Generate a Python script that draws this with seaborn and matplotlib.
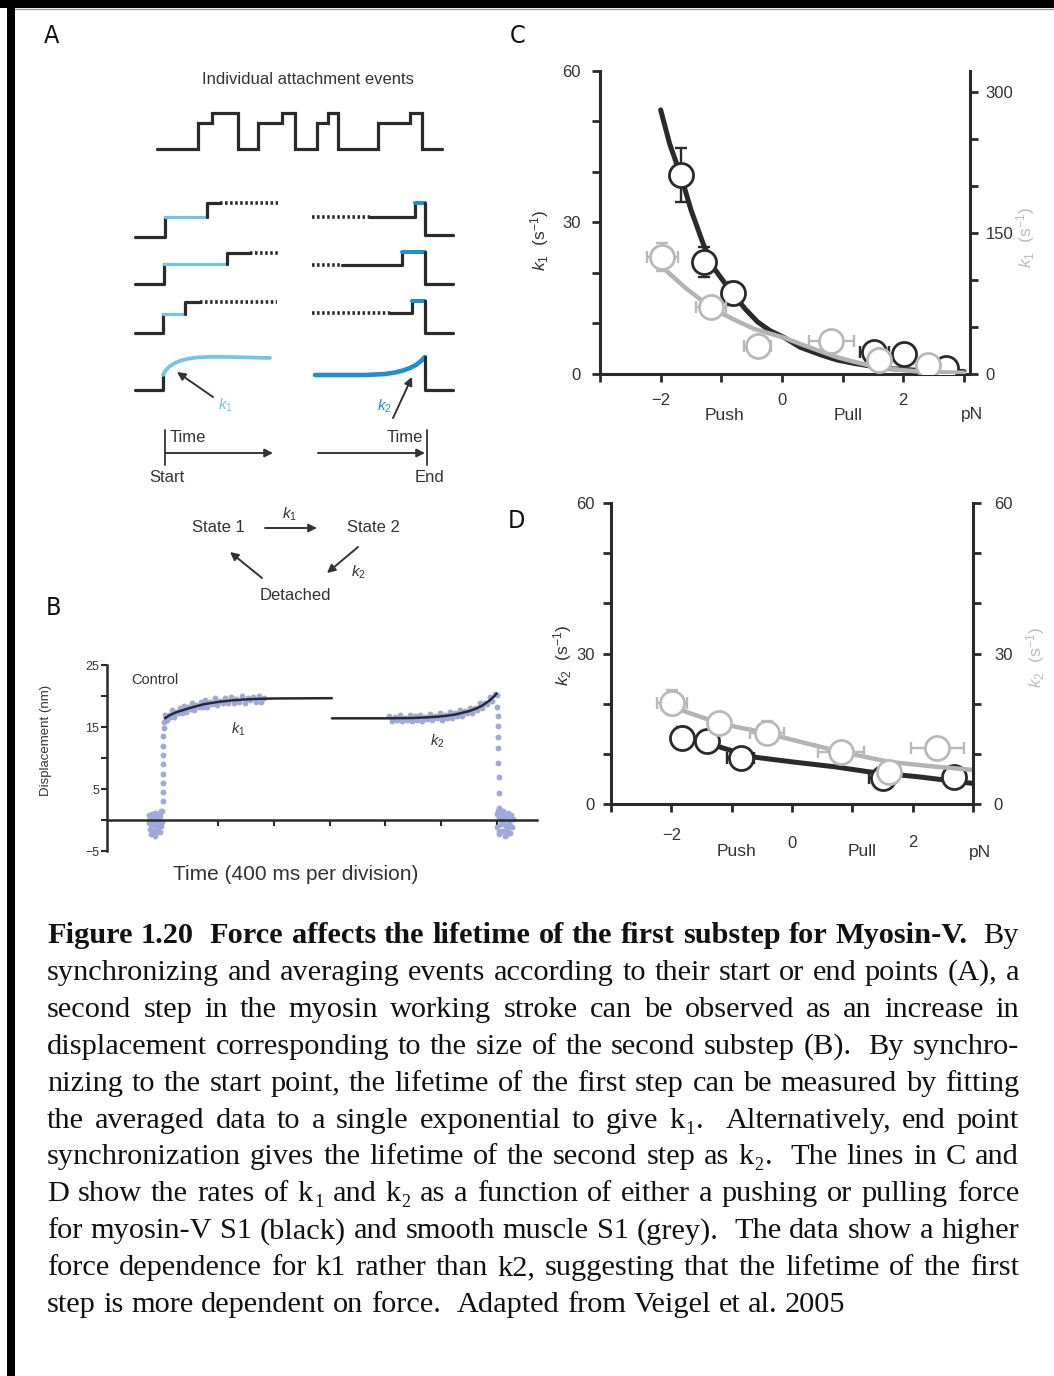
import re
import matplotlib
matplotlib.use("Agg")
import matplotlib.pyplot as plt
from matplotlib.patches import Rectangle
import seaborn as sns

# ---------------------------------------------------------------- data
# Panel C (k1 vs force); black = myosin-V (left axis), grey = smooth muscle (right axis)
c_black_fit_x = [-2.0, -1.85, -1.67, -1.5, -1.29, -1.1, -0.82, -0.6, -0.4, -0.2, 0.04,
                 0.3, 0.64, 0.9, 1.19, 1.5, 1.74, 2.0, 2.29, 2.6, 3.0]
c_black_fit_y = [52.3, 45.5, 39.4, 32.5, 25.5, 20.6, 16.0, 12.8, 10.3, 8.6, 7.2,
                 5.3, 3.8, 2.8, 2.1, 1.5, 1.1, 0.9, 0.7, 0.6, 0.5]
c_grey_fit_x = [-1.98, -1.6, -1.18, -0.95, -0.73, -0.46, -0.2, 0.04, 0.34, 0.64, 0.9,
                1.19, 1.45, 1.74, 2.0, 2.29, 2.6, 3.0]
c_grey_fit_y = [114, 92, 71, 63, 56, 48, 43, 38.5, 31, 24, 18, 13, 9, 6, 4, 2.5, 1.8, 1.4]
c_black_x = [-1.67, -1.29, -0.81, 1.52, 2.02, 2.71]
c_black_y = [39.4, 22.2, 16.0, 4.4, 4.0, 1.2]
c_black_xerr = [0.0, 0.0, 0.0, 0.24, 0.0, 0.0]
c_black_yerr = [5.4, 3.0, 2.3, 0.0, 0.0, 0.0]
c_grey_x = [-1.97, -1.17, -0.40, 0.81, 1.60, 2.41]
c_grey_y = [124, 71, 30, 35, 15, 9.5]
c_grey_xerr = [0.25, 0.25, 0.22, 0.37, 0.0, 0.0]
c_grey_yerr = [15, 0, 0, 0, 0, 0]

# Panel D (k2 vs force)
d_black_fit_x = [-1.83, -1.21, -0.66, 0.0, 0.72, 1.28, 2.11, 3.0]
d_black_fit_y = [13.2, 11.4, 9.4, 8.4, 7.4, 6.4, 5.4, 4.1]
d_grey_fit_x = [-1.93, -1.21, -0.42, 0.0, 0.81, 1.61, 2.41, 3.0]
d_grey_fit_y = [19.1, 16.1, 14.1, 12.8, 10.4, 8.4, 7.4, 6.8]
d_black_x = [-1.83, -1.41, -0.85, 1.50, 2.69]
d_black_y = [13.2, 12.6, 9.2, 5.2, 5.4]
d_black_xerr = [0.0, 0.0, 0.22, 0.22, 0.0]
d_black_yerr = [2.2, 2.0, 0.0, 0.0, 0.0]
d_grey_x = [-1.99, -1.21, -0.42, 0.81, 1.61, 2.41]
d_grey_y = [20.2, 16.1, 14.2, 10.4, 6.4, 11.2]
d_grey_xerr = [0.25, 0.0, 0.28, 0.38, 0.0, 0.44]
d_grey_yerr = [2.5, 1.5, 2.3, 0.0, 0.0, 0.0]

# Panel B (displacement trace, time in ms)
b_noise1_t = [300, 305, 310, 312, 318, 320, 325, 330, 333, 338, 342, 345,
              350, 355, 358, 362, 366, 370, 374, 378, 382, 386, 390, 393]
b_noise1_y = [-0.5, 0.8, -1.5, 0.3, -2.2, 1.0, -0.8, -1.8, 0.5, -0.3, -2.5, 1.2,
              -1.0, 0.2, -1.9, -0.6, 0.9, -1.3, -0.2, -2.0, 0.6, -0.9, 1.4, -0.4]
b_rise_t = [398, 399, 400, 401, 402, 403, 404, 405, 406, 408, 410]
b_rise_y = [1.5, 3.0, 4.5, 6.0, 7.5, 9.0, 10.5, 12.0, 13.5, 14.8, 15.8]
b_k1_t = [418, 430, 442, 455, 468, 480, 494, 508, 522, 536, 550, 565, 580, 595,
          610, 626, 642, 658, 674, 690, 706, 722, 740, 758, 776, 794, 812, 830,
          850, 870, 890, 910, 930, 950, 970, 990, 1010, 1030, 1050, 1070, 1090,
          1110, 1125]
b_k1_y = [16.9, 16.1, 17.0, 16.6, 17.7, 16.6, 17.5, 17.3, 18.0, 17.3, 18.4, 17.5,
          18.3, 17.9, 18.9, 17.8, 18.6, 18.3, 19.0, 18.3, 19.3, 18.3, 19.1, 18.7,
          19.6, 18.5, 19.2, 18.9, 19.6, 18.8, 19.8, 18.8, 19.5, 19.1, 20.0, 18.9,
          19.6, 19.3, 19.9, 19.1, 20.0, 19.0, 19.7]
b_k2_t = [2030, 2048, 2066, 2084, 2102, 2120, 2138, 2156, 2174, 2192, 2210, 2228,
          2246, 2264, 2282, 2300, 2318, 2336, 2354, 2372, 2390, 2408, 2426, 2444,
          2462, 2480, 2498, 2516, 2534, 2552, 2570, 2588, 2606, 2624, 2642, 2660,
          2678, 2696, 2714, 2732, 2750, 2768, 2786, 2800]
b_k2_y = [16.8, 16.0, 16.6, 16.1, 16.9, 15.9, 16.5, 16.2, 16.9, 16.0, 16.7, 16.2,
          17.0, 16.0, 16.6, 16.3, 17.1, 16.1, 16.8, 16.4, 17.2, 16.2, 17.0, 16.5,
          17.4, 16.4, 17.2, 16.8, 17.7, 16.7, 17.6, 17.2, 18.1, 17.2, 18.1, 17.8,
          18.8, 18.0, 18.9, 18.7, 19.8, 19.2, 20.3, 20.2]
b_fall_t = [2806, 2808, 2810, 2811, 2812, 2813, 2814, 2815, 2816, 2817]
b_fall_y = [18.2, 16.7, 15.2, 13.4, 11.6, 9.2, 6.9, 4.4, 1.9, 0.5]
b_noise2_t = [2800, 2806, 2812, 2818, 2824, 2830, 2836, 2842, 2848, 2854, 2860, 2866,
              2872, 2878, 2884, 2890, 2896, 2902, 2908, 2914, 2820, 2845, 2870, 2895]
b_noise2_y = [0.9, -1.2, 1.4, -2.3, 0.2, -0.7, 1.1, -1.8, -0.3, 0.7, -2.5, -1.0,
              0.4, -1.6, 1.2, -0.5, -2.1, 0.8, -1.1, 0.1, -2.0, 1.5, -2.4, -0.9]
b_k1_fit_t = [416, 450, 500, 600, 700, 800, 900, 1000, 1100, 1200, 1616]
b_k1_fit_y = [16.4, 16.9, 17.4, 18.1, 18.7, 19.05, 19.3, 19.45, 19.55, 19.6, 19.65]
b_k2_fit_t = [1616, 2000, 2200, 2300, 2400, 2500, 2600, 2650, 2700, 2750, 2780, 2800]
b_k2_fit_y = [16.4, 16.4, 16.45, 16.55, 16.7, 17.0, 17.55, 17.95, 18.5, 19.3, 19.9, 20.4]
b_xticks = [800, 1200, 1600, 2000, 2400, 2800]
b_yticks = [-5, 0, 5, 10, 15, 20, 25]
b_ylabels = ["\u22125", "", "5", "", "15", "", "25"]

# Panel A schematic (step traces)
a_top_x = [157, 198, 198, 212, 212, 238, 238, 258, 258, 282, 282, 295, 295, 317,
           317, 328, 328, 338, 338, 378, 378, 410, 410, 422, 422, 442]
a_top_y = [149, 149, 123, 123, 113, 113, 149, 149, 123, 123, 113, 113, 149, 149,
           123, 123, 113, 113, 149, 149, 123, 123, 113, 113, 149, 149]
a_left_base = [237, 284, 333]
a_left_l1 = [217, 264, 314]
a_left_l2 = [203, 253, 302]
a_left_up = [165, 164, 163]
a_left_step = [207, 227, 185]
a_left_bend = [220, 250, 200]
a_left_dend = [278, 278, 277]
a_right_dend = [370, 342, 390]
a_right_l1 = [217, 265, 313]
a_right_step = [415, 402, 412]
a_right_l2 = [203, 252, 301]
a_right_base = [235, 284, 333]
a_k1_curve_x = [163, 166, 170, 175, 181, 188, 196, 205, 215, 230, 250, 270]
a_k1_curve_y = [375, 370, 366, 363, 360.5, 358.8, 357.6, 357, 356.8, 357, 357.5, 358]
a_k2_curve_x = [315, 340, 365, 385, 395, 403, 410, 416, 421, 425]
a_k2_curve_y = [375, 375, 375, 374, 372.5, 370.5, 368, 365, 361, 357]

caption_lines = [
    "Figure 1.20  Force affects the lifetime of the first substep for Myosin-V.  By",
    "synchronizing and averaging events according to their start or end points (A), a",
    "second step in the myosin working stroke can be observed as an increase in",
    "displacement corresponding to the size of the second substep (B).  By synchro-",
    "nizing to the start point, the lifetime of the first step can be measured by fitting",
    "the averaged data to a single exponential to give k_1.  Alternatively, end point",
    "synchronization gives the lifetime of the second step as k_2.  The lines in C and",
    "D show the rates of k_1 and k_2 as a function of either a pushing or pulling force",
    "for myosin-V S1 (black) and smooth muscle S1 (grey).  The data show a higher",
    "force dependence for k1 rather than k2, suggesting that the lifetime of the first",
    "step is more dependent on force.  Adapted from Veigel et al. 2005",
]
caption_bold_words = 12

# ---------------------------------------------------------------- style
W, H = 1054, 1376
BLACK = "#2a2a2a"
GREY = "#b3b3b3"
TXT = "#333333"
LBLUE = "#74c3ee"
DBLUE = "#1e8fd5"
DOTS = "#a0a9dc"

sns.set_theme(style="ticks")
plt.rcParams["font.family"] = ["Liberation Sans", "DejaVu Sans"]
plt.rcParams["mathtext.fontset"] = "custom"
plt.rcParams["mathtext.rm"] = "Liberation Sans"
plt.rcParams["mathtext.it"] = "Liberation Sans:italic"
plt.rcParams["mathtext.bf"] = "Liberation Sans:bold"
plt.rcParams["axes.edgecolor"] = BLACK
plt.rcParams["xtick.color"] = BLACK
plt.rcParams["ytick.color"] = BLACK

fig = plt.figure(figsize=(W / 100, H / 100), dpi=100)
fig.patch.set_facecolor("white")

ov = fig.add_axes([0, 0, 1, 1])
ov.set_xlim(0, W)
ov.set_ylim(H, 0)
ov.axis("off")


def px_axes(x0, y0, x1, y1):
    ax = fig.add_axes([x0 / W, 1 - y1 / H, (x1 - x0) / W, (y1 - y0) / H])
    ax.patch.set_alpha(0)
    return ax


# border
ov.add_patch(Rectangle((0, 0), W, 8, color="black", lw=0))
ov.add_patch(Rectangle((7, 0), 8, H, color="black", lw=0))
ov.plot([15, W], [9, 9], color="#9a9a9a", lw=1)

# panel letters
for lab, x, y in [("A", 52, 36), ("C", 518, 36), ("B", 53, 608), ("D", 516, 521)]:
    ov.text(x, y, lab, fontsize=18, family="DejaVu Sans", fontstretch="condensed",
            color="#111", ha="center", va="center")

# ---------------------------------------------------------------- panel A
LW = 2.3
ov.text(308, 80, "Individual attachment events", fontsize=12, color=TXT,
        ha="center", va="center")
ov.plot(a_top_x, a_top_y, color=BLACK, lw=LW, solid_joinstyle="miter")
dot_style = dict(color=BLACK, lw=2.6, linestyle=(0, (0.7, 0.7)))
for i in range(3):
    b, l1, l2 = a_left_base[i], a_left_l1[i], a_left_l2[i]
    up, st = a_left_up[i], a_left_step[i]
    ov.plot([135, up, up], [b, b, l1], color=BLACK, lw=LW)
    ov.plot([up, st], [l1, l1], color=LBLUE, lw=LW)
    ov.plot([st, st, a_left_bend[i]], [l1, l2, l2], color=BLACK, lw=LW)
    ov.plot([a_left_bend[i], a_left_dend[i]], [l2, l2], **dot_style)
    rb, r1, r2, rs = a_right_base[i], a_right_l1[i], a_right_l2[i], a_right_step[i]
    ov.plot([312, a_right_dend[i]], [r1, r1], **dot_style)
    ov.plot([a_right_dend[i], rs, rs], [r1, r1, r2], color=BLACK, lw=LW)
    ov.plot([rs, 425], [r2, r2], color=DBLUE, lw=LW + 0.6)
    ov.plot([425, 425, 453], [r2, rb, rb], color=BLACK, lw=LW)
ov.plot([135, 163, 163], [390, 390, 375], color=BLACK, lw=LW)
ov.plot(a_k1_curve_x, a_k1_curve_y, color=LBLUE, lw=LW + 0.4)
ov.plot(a_k2_curve_x, a_k2_curve_y, color=DBLUE, lw=LW + 1.0)
ov.plot([425, 425, 453], [357, 390, 390], color=BLACK, lw=LW)

arrow = dict(arrowstyle="-|>", color=TXT, lw=1.4, mutation_scale=12, shrinkA=0, shrinkB=0)
ov.annotate("", xy=(177, 372), xytext=(213, 397), arrowprops=arrow)
ov.annotate("", xy=(412, 377), xytext=(393, 418), arrowprops=arrow)
ov.text(226, 405, r"$k_1$", color=LBLUE, fontsize=11, ha="center", va="center")
ov.text(384, 406, r"$k_2$", color=DBLUE, fontsize=11, ha="center", va="center")

ov.plot([165, 165], [430, 465], color=TXT, lw=1.3)
ov.annotate("", xy=(273, 453), xytext=(165, 453), arrowprops=arrow)
ov.annotate("", xy=(425, 453), xytext=(318, 453), arrowprops=arrow)
ov.plot([427, 427], [430, 465], color=TXT, lw=1.3)
ov.text(170, 437, "Time", fontsize=12, color=TXT, ha="left", va="center")
ov.text(423, 437, "Time", fontsize=12, color=TXT, ha="right", va="center")
ov.text(167, 477, "Start", fontsize=12, color=TXT, ha="center", va="center")
ov.text(429, 477, "End", fontsize=12, color=TXT, ha="center", va="center")

ov.text(218, 527, "State 1", fontsize=12, color=TXT, ha="center", va="center")
ov.text(373, 527, "State 2", fontsize=12, color=TXT, ha="center", va="center")
ov.text(295, 596, "Detached", fontsize=12, color=TXT, ha="center", va="center")
ov.annotate("", xy=(317, 528), xytext=(265, 528), arrowprops=arrow)
ov.annotate("", xy=(327, 573), xytext=(358, 547), arrowprops=arrow)
ov.annotate("", xy=(230, 552), xytext=(262, 578), arrowprops=arrow)
ov.text(290, 514, r"$k_1$", fontsize=11, color=TXT, ha="center", va="center")
ov.text(358, 572, r"$k_2$", fontsize=11, color=TXT, ha="center", va="center")

# ---------------------------------------------------------------- panel B
axB = px_axes(107, 665, 537, 851)
axB.set_xlim(0, 3090)
axB.set_ylim(-5, 25)
for arr_t, arr_y in [(b_noise1_t, b_noise1_y), (b_rise_t, b_rise_y), (b_k1_t, b_k1_y),
                     (b_k2_t, b_k2_y), (b_fall_t, b_fall_y), (b_noise2_t, b_noise2_y)]:
    sns.scatterplot(x=arr_t, y=arr_y, ax=axB, s=18, color=DOTS, linewidth=0, zorder=2)
sns.lineplot(x=b_k1_fit_t, y=b_k1_fit_y, ax=axB, color=BLACK, lw=1.8, zorder=3)
sns.lineplot(x=b_k2_fit_t, y=b_k2_fit_y, ax=axB, color=BLACK, lw=1.8, zorder=3)
axB.spines["top"].set_visible(False)
axB.spines["right"].set_visible(False)
axB.spines["bottom"].set_position(("data", 0))
for s in ["left", "bottom"]:
    axB.spines[s].set_linewidth(1.8)
axB.set_xticks(b_xticks)
axB.set_xticklabels([])
axB.set_yticks(b_yticks)
axB.set_yticklabels(b_ylabels)
axB.tick_params(axis="y", length=4, width=1.5, pad=1.5, labelsize=9, labelcolor=TXT)
axB.tick_params(axis="x", length=4, width=1.5, direction="out")
axB.set_xlabel("")
axB.set_ylabel("")
ov.text(46, 740, "Displacement (nm)", fontsize=9.5, color=TXT, rotation=90,
        ha="center", va="center")
ov.text(131, 680, "Control", fontsize=10.5, color=TXT, ha="left", va="center")
ov.text(238, 729, r"$k_1$", fontsize=10.5, color=TXT, ha="center", va="center")
ov.text(437, 741, r"$k_2$", fontsize=10.5, color=TXT, ha="center", va="center")
ov.text(296, 875, "Time (400 ms per division)", fontsize=15, color=TXT,
        ha="center", va="center")


# ---------------------------------------------------------------- panels C & D
def force_panel(rect, xlim, left_max, right_max, left_ticks, left_labels,
                right_ticks, right_labels, fits, points, lpad, rpad, xpads):
    ax = px_axes(*rect)
    ax.set_xlim(*xlim)
    ax.set_ylim(0, left_max)
    axr = ax.twinx()
    axr.set_ylim(0, right_max)
    axr.patch.set_alpha(0)
    (bfx, bfy), (gfx, gfy) = fits
    sns.lineplot(x=bfx, y=bfy, ax=ax, color=BLACK, lw=3.6, zorder=2)
    sns.lineplot(x=gfx, y=gfy, ax=axr, color=GREY, lw=3.2, zorder=2)
    for a, (px, py, pxe, pye), edge in [(ax, points[0], BLACK), (axr, points[1], "#b9b9b9")]:
        a.errorbar(px, py, xerr=pxe, yerr=pye, fmt="none", ecolor=edge,
                   elinewidth=1.7, capsize=4, capthick=1.7, zorder=3)
        sns.scatterplot(x=px, y=py, ax=a, s=300, color="white", edgecolor=edge,
                        linewidth=2.0, zorder=4)
    for s in ["top", "right"]:
        ax.spines[s].set_visible(False)
    for s in ["top", "left", "bottom"]:
        axr.spines[s].set_visible(False)
    for s in ["left", "bottom"]:
        ax.spines[s].set_linewidth(2.2)
    axr.spines["right"].set_linewidth(2.2)
    ax.set_yticks(left_ticks)
    ax.set_yticklabels(left_labels)
    axr.set_yticks(right_ticks)
    axr.set_yticklabels(right_labels)
    ax.set_xticks([-3, -2, -1, 0, 1, 2, 3])
    ax.set_xticklabels(["", "\u22122", "", "0", "", "2", ""])
    ax.tick_params(axis="y", length=6, width=2, pad=lpad, labelsize=12, labelcolor=TXT)
    axr.tick_params(axis="y", length=6, width=2, pad=rpad, labelsize=12, labelcolor=TXT)
    ax.tick_params(axis="x", length=6, width=2, labelsize=12, labelcolor=TXT)
    for tick, p in zip(ax.xaxis.get_major_ticks(), xpads):
        tick.set_pad(p)
    for a in (ax, axr):
        a.set_xlabel("")
        a.set_ylabel("")
    return ax, axr


force_panel((600, 71, 970, 374), (-3, 3.1), 60, 322,
            [0, 10, 20, 30, 40, 50, 60], ["0", "", "", "30", "", "", "60"],
            [0, 50, 100, 150, 200, 250, 300], ["0", "", "", "150", "", "", "300"],
            ((c_black_fit_x, c_black_fit_y), (c_grey_fit_x, c_grey_fit_y)),
            ((c_black_x, c_black_y, c_black_xerr, c_black_yerr),
             (c_grey_x, c_grey_y, c_grey_xerr, c_grey_yerr)),
            8, 5, [8] * 7)
ov.text(725, 415, "Push", fontsize=12.5, color=TXT, ha="center", va="center")
ov.text(848, 415, "Pull", fontsize=12.5, color=TXT, ha="center", va="center")
ov.text(972, 415, "pN", fontsize=12.5, color=TXT, ha="center", va="center")
ov.text(540, 240, r"$k_1$  (s$^{-1}$)", fontsize=12.5, color=TXT, rotation=90,
        ha="center", va="center")
ov.text(1026, 237, r"$k_1$  (s$^{-1}$)", fontsize=12.5, color="#bdbdbd", rotation=90,
        ha="center", va="center")

force_panel((611, 503, 973, 804), (-3, 3), 60, 60,
            [0, 10, 20, 30, 40, 50, 60], ["0", "", "", "30", "", "", "60"],
            [0, 10, 20, 30, 40, 50, 60], ["0", "", "", "30", "", "", "60"],
            ((d_black_fit_x, d_black_fit_y), (d_grey_fit_x, d_grey_fit_y)),
            ((d_black_x, d_black_y, d_black_xerr, d_black_yerr),
             (d_grey_x, d_grey_y, d_grey_xerr, d_grey_yerr)),
            6, 9, [12, 11, 14, 17, 14, 16, 12])
ov.text(737, 851, "Push", fontsize=12.5, color=TXT, ha="center", va="center")
ov.text(862, 851, "Pull", fontsize=12.5, color=TXT, ha="center", va="center")
ov.text(980, 853, "pN", fontsize=12.5, color=TXT, ha="center", va="center")
ov.text(563, 655, r"$k_2$  (s$^{-1}$)", fontsize=12.5, color=TXT, rotation=90,
        ha="center", va="center")
ov.text(1036, 657, r"$k_2$  (s$^{-1}$)", fontsize=12.5, color="#bdbdbd", rotation=90,
        ha="center", va="center")

# ---------------------------------------------------------------- caption
SERIF = "Liberation Serif"
CAP_SIZE = 21.9
CAP_X0, CAP_X1 = 47, 1019
CAP_BASE0, CAP_DY = 943, 36.9
cap_px = CAP_SIZE * 100 / 72
renderer = fig.canvas.get_renderer()


def text_w(s, size, weight):
    t = ov.text(0, 0, s, fontsize=size, fontweight=weight, family=SERIF)
    w = t.get_window_extent(renderer=renderer).width
    t.remove()
    return w


space_w = text_w("n n", CAP_SIZE, "normal") - text_w("nn", CAP_SIZE, "normal")


def word_segments(word, bold):
    weight = "bold" if bold else "normal"
    m = re.fullmatch(r"(.*?)k_(\d)(.*)", word)
    if m:
        segs = []
        if m.group(1):
            segs.append((m.group(1), CAP_SIZE, weight, 0))
        segs.append(("k", CAP_SIZE, weight, 0))
        segs.append((m.group(2), CAP_SIZE * 0.6, weight, cap_px * 0.2))
        if m.group(3):
            segs.append((m.group(3), CAP_SIZE, weight, 0))
        return segs
    return [(word, CAP_SIZE, weight, 0)]


for li, line in enumerate(caption_lines):
    tokens = line.split(" ")
    words, weights = [], []
    pending = 0
    for tok in tokens:
        if tok == "":
            pending += 1
            continue
        if words:
            weights.append(1 + pending)
        pending = 0
        words.append(tok)
    seg_words = []
    total = 0.0
    for wi, w in enumerate(words):
        bold = (li == 0 and wi < caption_bold_words)
        segs = word_segments(w, bold)
        placed = []
        for (s, size, weight, dy) in segs:
            sw = text_w(s, size, weight)
            placed.append((s, size, weight, dy, sw))
            total += sw + 1.0
        total -= 1.0
        seg_words.append(placed)
    last = li == len(caption_lines) - 1
    if last:
        unit = space_w
    else:
        unit = max((CAP_X1 - CAP_X0 - total) / sum(weights), 0.35 * space_w)
    x = CAP_X0
    base = CAP_BASE0 + li * CAP_DY
    for wi, placed in enumerate(seg_words):
        for (s, size, weight, dy, sw) in placed:
            ov.text(x, base + dy, s, fontsize=size, fontweight=weight, family=SERIF,
                    color="#111", ha="left", va="baseline")
            x += sw + 1.0
        x -= 1.0
        if wi < len(weights):
            x += unit * weights[wi]

fig.savefig("out.png", dpi=100, facecolor="white")
